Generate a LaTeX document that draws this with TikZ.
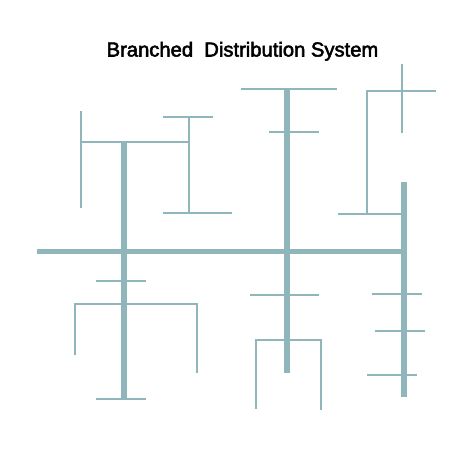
\documentclass[tikz,border=0pt]{standalone}
\usepackage{fontspec}
\newfontfamily\titlefont{Liberation Sans}[FakeBold=2.5]
\definecolor{pipe}{RGB}{143,182,187}
\begin{document}
\begin{tikzpicture}[x=1pt,y=-1pt,
  mainpipe/.style={draw=pipe,line width=5.5pt},
  branchpipe/.style={draw=pipe,line width=2.3pt}]
\useasboundingbox (0,0) rectangle (474,474);
\node[anchor=base,inner sep=0pt,font=\titlefont\fontsize{20.2}{24}\selectfont] (title) at (242.5,56.5) {Branched\ \ Distribution System};
% main lines
\draw[mainpipe] (37,251.5) -- (406,251.5);
\draw[mainpipe] (124,143) -- (124,398);
\draw[mainpipe] (287,90) -- (287,373);
\draw[mainpipe] (404,182) -- (404,397);
% upper left branches
\draw[branchpipe] (81,142) -- (189,142);
\draw[branchpipe] (81,111) -- (81,208);
\draw[branchpipe] (189,117) -- (189,213);
\draw[branchpipe] (163,117) -- (213,117);
\draw[branchpipe] (163,213) -- (232,213);
% lower left branches
\draw[branchpipe] (96,281) -- (146,281);
\draw[branchpipe] (75,355) -- (75,304) -- (197,304) -- (197,373);
\draw[branchpipe] (96,399) -- (146,399);
% middle trunk branches
\draw[branchpipe] (241,89) -- (337,89);
\draw[branchpipe] (269,132) -- (319,132);
\draw[branchpipe] (250,295) -- (319,295);
\draw[branchpipe] (256,409) -- (256,340) -- (321,340) -- (321,410);
% upper right branches
\draw[branchpipe] (338,214) -- (402,214);
\draw[branchpipe] (367,214) -- (367,91) -- (436,91);
\draw[branchpipe] (402,64) -- (402,133);
% right trunk ticks
\draw[branchpipe] (372,294) -- (422,294);
\draw[branchpipe] (375,331) -- (425,331);
\draw[branchpipe] (367,375) -- (417,375);
\end{tikzpicture}
\end{document}
